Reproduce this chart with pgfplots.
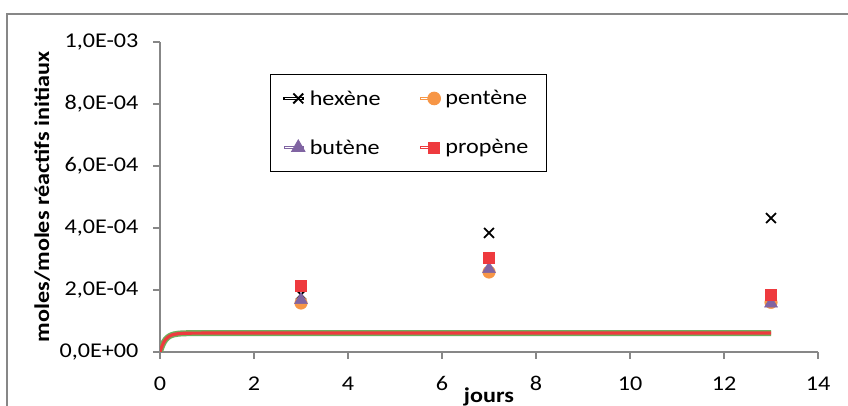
\documentclass[border=0pt]{standalone}
\usepackage{pgfplots}
\pgfplotsset{compat=1.18}
\usepackage{fontspec}
\setmainfont{Carlito}[FakeStretch=1.15]
\definecolor{axgray}{HTML}{878787}
\definecolor{cOrange}{HTML}{F79646}
\definecolor{cPurple}{HTML}{8064A2}
\definecolor{cRed}{HTML}{EE3A3E}
\definecolor{cGreen}{HTML}{6FAE5C}
\newcommand{\fs}{\fontsize{21}{25}\selectfont}
\pgfplotsset{lgm/.style={legend image code/.code={\path (0pt,-1pt) rectangle (19pt,1pt);\draw[mark repeat=2,mark phase=2,##1,/tikz/only marks] plot coordinates {(0pt,0pt) (14pt,0pt) (19pt,0pt)};}}}
\begin{document}
\begin{tikzpicture}
\useasboundingbox (0pt,0pt) rectangle (848pt,406pt);
\draw[axgray, line width=1.5pt] (7pt,0pt) -- (7pt,392pt) -- (848pt,392pt);
\begin{axis}[
  at={(160pt,54pt)}, anchor=origin,
  scale only axis, width=658pt, height=310pt,
  xmin=0, xmax=14, ymin=0, ymax=1e-3,
  axis x line*=bottom, axis y line*=left,
  axis line style={axgray, line width=1.2pt, -},
  tick style={axgray, line width=1.2pt},
  tick align=outside, major tick length=7pt,
  xtick={0,2,...,14},
  ytick={0,2e-4,4e-4,6e-4,8e-4,1e-3},
  yticklabels={{0,0E+00},{2,0E-04},{4,0E-04},{6,0E-04},{8,0E-04},{1,0E-03}},
  scaled y ticks=false,
  /pgf/number format/assume math mode=true,
  ticklabel style={font=\fs, text=black},
  xticklabel style={yshift=-14pt},
  yticklabel style={xshift=-11pt},
  xlabel={\bfseries jours},
  xlabel style={at={(axis description cs:0.5,-0.163)}, anchor=base, font=\fs},
  ylabel={\bfseries moles/moles réactifs initiaux},
  ylabel style={at={(axis description cs:-0.179,0.5)}, anchor=center, font=\fs},
  legend columns=2,
  legend cell align=left,
  legend style={at={(axis description cs:0.167,0.897)}, anchor=north west,
    draw=black, line width=1pt, font=\fs,
    nodes={inner xsep=5pt, inner ysep=2pt},
    inner xsep=13pt, inner ysep=14pt, row sep=29pt,
    /tikz/every even column/.append style={column sep=34pt}},
]
\addplot[cGreen, line width=6pt, line join=round, forget plot] coordinates {
 (0,0) (0.02,1.0e-5) (0.05,2.2e-5) (0.08,3.13e-5) (0.12,4.03e-5) (0.16,4.66e-5)
 (0.2,5.1e-5) (0.25,5.46e-5) (0.3,5.69e-5) (0.4,5.93e-5) (0.5,6.03e-5)
 (0.7,6.09e-5) (1,6.1e-5) (13,6.1e-5)};
\addplot[cRed, line width=3.2pt, line join=round, forget plot] coordinates {
 (0,0) (0.02,1.0e-5) (0.05,2.2e-5) (0.08,3.13e-5) (0.12,4.03e-5) (0.16,4.66e-5)
 (0.2,5.1e-5) (0.25,5.46e-5) (0.3,5.69e-5) (0.4,5.93e-5) (0.5,6.03e-5)
 (0.7,6.09e-5) (1,6.1e-5) (13,6.1e-5)};
\addplot[only marks, lgm, mark=x, mark size=7pt, black, line width=1.8pt] coordinates {
 (3,1.85e-4) (7,3.84e-4) (13,4.32e-4)};
\addlegendentry{hexène}
\addplot[only marks, lgm, mark=*, mark size=6.3pt, cOrange, draw=cOrange] coordinates {
 (3,1.58e-4) (7,2.58e-4) (13,1.6e-4)};
\addlegendentry{pentène}
\addplot[only marks, lgm, mark=triangle*, mark size=7.5pt, cPurple, draw=cPurple] coordinates {
 (3,1.68e-4) (7,2.68e-4) (13,1.57e-4)};
\addlegendentry{butène}
\addplot[only marks, lgm, mark=square*, mark size=5.5pt, cRed, draw=cRed] coordinates {
 (3,2.15e-4) (7,3.05e-4) (13,1.85e-4)};
\addlegendentry{propène}
\end{axis}
\end{tikzpicture}
\end{document}
